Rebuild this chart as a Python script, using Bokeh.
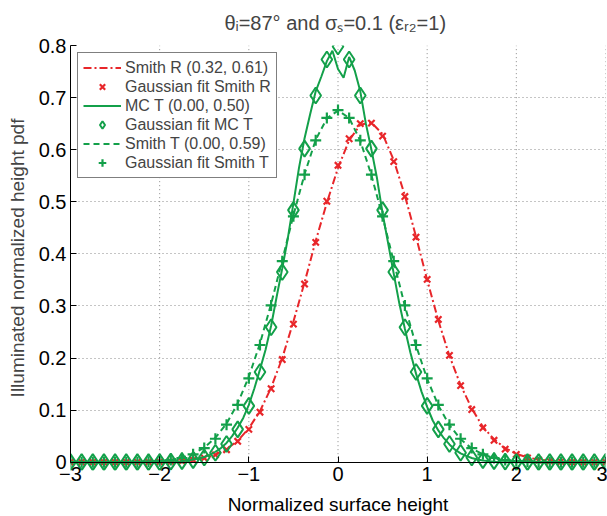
from bokeh.plotting import figure
from bokeh.models import Range1d, FixedTicker, Legend, LegendItem, LinearAxis
from bokeh.embed import file_html
from bokeh.resources import INLINE

# ---------------- data ----------------
fit_x = [-3.0, -2.875, -2.75, -2.625, -2.5, -2.375, -2.25, -2.125, -2.0, -1.875,
         -1.75, -1.625, -1.5, -1.375, -1.25, -1.125, -1.0, -0.875, -0.75, -0.625,
         -0.5, -0.375, -0.25, -0.125, 0.0, 0.125, 0.25, 0.375, 0.5, 0.625,
         0.75, 0.875, 1.0, 1.125, 1.25, 1.375, 1.5, 1.625, 1.75, 1.875,
         2.0, 2.125, 2.25, 2.375, 2.5, 2.625, 2.75, 2.875, 3.0]

smith_r_line = [0, 0, 0, 0, 0, 0, 0, 0, 0.0005, 0.001,
                0.002, 0.004, 0.008, 0.014, 0.025, 0.041, 0.065, 0.098, 0.143, 0.200,
                0.270, 0.345, 0.425, 0.498, 0.565, 0.618, 0.648, 0.652, 0.630, 0.580,
                0.512, 0.433, 0.350, 0.272, 0.204, 0.148, 0.103, 0.068, 0.044, 0.027,
                0.016, 0.009, 0.005, 0.003, 0.001, 0, 0, 0, 0]

smith_r_fit = [0, 0, 0, 0, 0, 0, 0.0001, 0.0002, 0.0005, 0.001,
               0.002, 0.004, 0.008, 0.014, 0.024, 0.040, 0.063, 0.096, 0.141, 0.197,
               0.265, 0.342, 0.422, 0.501, 0.570, 0.621, 0.650, 0.651, 0.626, 0.577,
               0.510, 0.432, 0.351, 0.274, 0.205, 0.147, 0.101, 0.066, 0.042, 0.025,
               0.015, 0.008, 0.004, 0.002, 0.001, 0, 0, 0, 0]

mc_fit = [0, 0, 0, 0, 0, 0, 0, 0, 0, 0.001,
          0.002, 0.004, 0.009, 0.018, 0.035, 0.063, 0.108, 0.173, 0.259, 0.365,
          0.484, 0.602, 0.704, 0.773, 0.798, 0.773, 0.704, 0.602, 0.484, 0.365,
          0.259, 0.173, 0.108, 0.063, 0.035, 0.018, 0.009, 0.004, 0.002, 0.001,
          0, 0, 0, 0, 0, 0, 0, 0, 0]

smith_t_line = [0, 0, 0, 0, 0, 0, 0, 0.001, 0.002, 0.004,
                0.008, 0.016, 0.028, 0.047, 0.074, 0.113, 0.164, 0.228, 0.304, 0.388,
                0.474, 0.553, 0.619, 0.660, 0.675, 0.661, 0.617, 0.551, 0.471, 0.385,
                0.300, 0.224, 0.160, 0.109, 0.071, 0.044, 0.026, 0.015, 0.008, 0.004,
                0.002, 0.001, 0, 0, 0, 0, 0, 0, 0]

smith_t_fit = [0, 0, 0, 0, 0, 0, 0, 0.001, 0.002, 0.004,
               0.008, 0.015, 0.027, 0.045, 0.072, 0.110, 0.161, 0.225, 0.301, 0.386,
               0.472, 0.552, 0.618, 0.661, 0.676, 0.661, 0.618, 0.552, 0.472, 0.386,
               0.301, 0.225, 0.161, 0.110, 0.072, 0.045, 0.027, 0.015, 0.008, 0.004,
               0.002, 0.001, 0, 0, 0, 0, 0, 0, 0]

mc_x = [-3.0, -2.0, -1.9375, -1.875, -1.8125,
        -1.75, -1.6875, -1.625, -1.5625, -1.5, -1.4375, -1.375, -1.3125, -1.25, -1.1875,
        -1.125, -1.0625, -1.0, -0.9375, -0.875, -0.8125, -0.75, -0.6875, -0.625, -0.5625,
        -0.5, -0.4375, -0.375, -0.3125, -0.25, -0.1875, -0.125, -0.0625, 0.0,
        0.0625, 0.125, 0.1875, 0.25, 0.3125, 0.375, 0.4375, 0.5, 0.5625, 0.625,
        0.6875, 0.75, 0.8125, 0.875, 0.9375, 1.0, 1.0625, 1.125, 1.1875, 1.25,
        1.3125, 1.375, 1.4375, 1.5, 1.5625, 1.625, 1.6875, 1.75,
        1.8125, 1.875, 1.9375, 2.0, 3.0]

mc_line = [0, 0, 0, 0, 0,
           0.002, 0.003, 0.005, 0.007, 0.010, 0.014, 0.020, 0.027, 0.037, 0.050,
           0.066, 0.085, 0.110, 0.142, 0.178, 0.216, 0.262, 0.318, 0.372, 0.430,
           0.497, 0.565, 0.622, 0.668, 0.712, 0.740, 0.770, 0.790, 0.755,
           0.738, 0.778, 0.752, 0.712, 0.650, 0.600, 0.545, 0.478, 0.420, 0.362,
           0.305, 0.256, 0.210, 0.170, 0.135, 0.106, 0.080, 0.061, 0.046, 0.034,
           0.024, 0.017, 0.012, 0.008, 0.005, 0.003, 0.002, 0.001,
           0, 0, 0, 0, 0]

x_ticks = [-3, -2, -1, 0, 1, 2, 3]
x_tick_labels = ["\u22123", "\u22122", "\u22121", "0", "1", "2", "3"]
y_ticks = [0, 0.1, 0.2, 0.3, 0.4, 0.5, 0.6, 0.7, 0.8]
y_tick_labels = ["0", "0.1", "0.2", "0.3", "0.4", "0.5", "0.6", "0.7", "0.8"]

legend_labels = ["Smith R (0.32, 0.61)", "Gaussian fit Smith R", "MC T (0.00, 0.50)",
                 "Gaussian fit MC T", "Smith T (0.00, 0.59)", "Gaussian fit Smith T"]

title_text = "\u03b8\u1d62=87\u00b0 and  \u03c3\u209b=0.1 (\u03b5\u1d63\u2082=1)"

RED = "#e8262a"
GREEN = "#13a04a"
FONT = "Liberation Sans"

# ---------------- figure ----------------
p = figure(frame_width=535, frame_height=425,
           x_range=Range1d(-3, 3), y_range=Range1d(-0.016, 0.8),
           output_backend="svg", toolbar_location=None,
           min_border_left=70, min_border_right=2, min_border_top=45, min_border_bottom=46)
p.outline_line_color = None
p.background_fill_color = "white"

# title
p.title.text = title_text
p.title.align = "center"
p.title.vertical_align = "top"
p.title.text_font = FONT
p.title.text_font_size = "20px"
p.title.text_font_style = "normal"
p.title.standoff = 20

# x axis line at y = 0 (ticks pointing up); its labels are carried by a second axis
ax_line = p.xaxis[0]
ax_line.fixed_location = 0
ax_line.bounds = (x_ticks[0], x_ticks[-1])
ax_line.ticker = FixedTicker(ticks=[], minor_ticks=x_ticks)
ax_line.axis_line_color = "black"
ax_line.major_tick_line_color = None
ax_line.minor_tick_in = 6
ax_line.minor_tick_out = 0
ax_line.minor_tick_line_color = "black"
ax_line.minor_tick_line_width = 1

ax_lab = LinearAxis(ticker=FixedTicker(ticks=x_ticks),
                    major_label_overrides=dict(zip(x_ticks, x_tick_labels)),
                    axis_line_color=None, major_tick_line_color=None,
                    minor_tick_line_color=None, major_tick_in=0, major_tick_out=0,
                    major_label_standoff=-4,
                    major_label_text_font=FONT, major_label_text_font_size="20px",
                    major_label_text_color="black",
                    axis_label="Normalized surface height", axis_label_standoff=10,
                    axis_label_text_font=FONT, axis_label_text_font_size="19px",
                    axis_label_text_font_style="normal", axis_label_text_color="black")
p.add_layout(ax_lab, "below")

# y axis
ya = p.yaxis[0]
ya.ticker = FixedTicker(ticks=y_ticks)
ya.major_label_overrides = dict(zip(y_ticks, y_tick_labels))
ya.bounds = (y_ticks[0], y_ticks[-1])
ya.axis_line_color = "black"
ya.major_tick_in = 6
ya.major_tick_out = 0
ya.major_tick_line_color = "black"
ya.minor_tick_line_color = None
ya.major_label_text_font = FONT
ya.major_label_text_font_size = "20px"
ya.major_label_text_color = "black"
ya.major_label_standoff = 4
ya.axis_label = "Illuminated normalized height pdf"
ya.axis_label_text_font = FONT
ya.axis_label_text_font_size = "19px"
ya.axis_label_text_font_style = "normal"
ya.axis_label_standoff = 8

# grids: horizontal via grid, vertical drawn at the tick positions between y=0 and 0.8
p.ygrid.ticker = FixedTicker(ticks=y_ticks)
p.ygrid.grid_line_color = "#8a8a8a"
p.ygrid.grid_line_dash = "1 3"
p.xgrid.visible = False
p.segment(x0=x_ticks, y0=[y_ticks[0]] * len(x_ticks), x1=x_ticks, y1=[y_ticks[-1]] * len(x_ticks),
          line_color="#8a8a8a", line_dash="1 3", line_width=1, level="underlay")

# series
r1 = p.line(fit_x, smith_r_line, line_color=RED, line_width=2, line_dash="8 3 2 3")
r2 = p.scatter(fit_x, smith_r_fit, marker="x", size=9, line_color=RED, line_width=2.2)
r3 = p.line(mc_x, mc_line, line_color=GREEN, line_width=2)
r4 = p.scatter(fit_x, mc_fit, marker="diamond", size=16, line_color=GREEN, line_width=2,
               fill_color=None)
r5 = p.line(fit_x, smith_t_line, line_color=GREEN, line_width=2, line_dash="6 4")
r6 = p.scatter(fit_x, smith_t_fit, marker="cross", size=11, line_color=GREEN, line_width=2.2)

legend = Legend(items=[LegendItem(label=legend_labels[i], renderers=[r])
                       for i, r in enumerate([r1, r2, r3, r4, r5, r6])],
                location="top_left", margin=7, padding=5, spacing=0,
                glyph_width=38, glyph_height=19, label_height=19, label_standoff=4,
                label_text_font=FONT, label_text_font_size="16px",
                border_line_color="black", border_line_width=1,
                background_fill_color="white", background_fill_alpha=1)
p.add_layout(legend)

open("out.html", "w").write(file_html(p, INLINE))
